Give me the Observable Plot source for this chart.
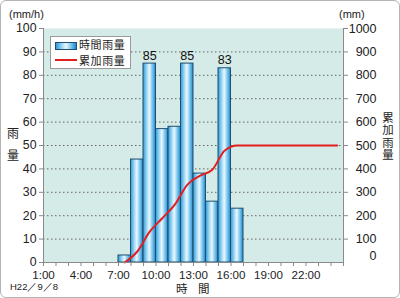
<!DOCTYPE html>
<html><head><meta charset="utf-8">
<script src="https://cdn.jsdelivr.net/npm/d3@7"></script>
<script src="https://cdn.jsdelivr.net/npm/@observablehq/plot@0.6"></script>
<style>
body{margin:0;width:400px;height:298px;overflow:hidden;background:#fff;font-family:"Liberation Sans",Arial,sans-serif;}
#wrap{position:relative;width:400px;height:298px;}
#frame{position:absolute;left:0;top:0;width:398px;height:296px;border:1px solid #b4b4b4;border-radius:6px;pointer-events:none;}
#chart{position:absolute;left:0;top:0;}
.t{position:absolute;color:#222;white-space:nowrap;line-height:1;}
.jp{font-family:"Noto Sans CJK JP",sans-serif;}
.vert{writing-mode:vertical-rl;text-orientation:upright;letter-spacing:1px;}
#legend{position:absolute;left:50px;top:36px;width:79px;height:31px;background:#fff;border:1px solid #9a9a9a;}
.sw{position:absolute;left:4px;top:5px;width:20px;height:6px;border:1px solid #1f4e6e;background:linear-gradient(90deg,#2b9ad8,#9fd8f5 30%,#eaf8ff 50%,#7cc6ee 75%,#1c88cc);}
.ln{position:absolute;left:4px;top:22px;width:22px;height:2px;background:#e41f1f;}
.lt{position:absolute;left:28px;font-size:11px;line-height:11px;color:#222;font-family:"Noto Sans CJK JP",sans-serif;white-space:nowrap;letter-spacing:0.6px;}
</style></head><body>
<div id="wrap">
<div id="chart"></div>
<div id="frame"></div>
</div>
<script>
// ---- data ----
const hours = [7, 8, 9, 10, 11, 12, 13, 14, 15, 16];          // start hour of each bar
const hourlyRain = [3, 44, 85, 57, 58, 85, 38, 26, 83, 23];     // mm/h
const cumTimes = [7.5, 8.5, 9.5, 10.5, 11.5, 12.5, 13.5, 14.5, 15.5, 16.5, 24.5];
const cumRain = [0, 47, 132, 189, 247, 332, 370, 396, 479, 500, 500]; // mm
const xTickHours = d3.range(1, 26);
const xLabelHours = [1, 4, 7, 10, 13, 16, 19, 22];
const leftTicks = [0, 10, 20, 30, 40, 50, 60, 70, 80, 90, 100];
const rightTicks = [100, 200, 300, 400, 500, 600, 700, 800, 900, 1000];
const gridTicks = [10, 20, 30, 40, 50, 60, 70, 80, 90];
const labelledBars = [85, 85, 83];
const legendLabels = ["時間雨量", "累加雨量"];

const bars = hours.map((h, i) => ({h, v: hourlyRain[i]}));
const cum = cumTimes.map((t, i) => ({t, c: cumRain[i]}));
const RIGHT_FACTOR = 10;

const svg = Plot.plot({
  width: 400, height: 298,
  marginLeft: 43, marginRight: 57, marginTop: 28, marginBottom: 36,
  x: {domain: [1, 25]},
  y: {domain: [0, 100]},
  style: {fontFamily: "'Liberation Sans', Arial, sans-serif", fontSize: "12px", color: "#222", background: "transparent"},
  marks: [
    Plot.frame({fill: "#d5ebe7", stroke: null}),
    Plot.gridY(gridTicks, {stroke: "#666", strokeOpacity: 1, strokeDasharray: "1.5,2.5"}),
    Plot.rect(bars, {x1: "h", x2: d => d.h + 1, y1: 0, y2: "v", fill: "url(#barGrad)", stroke: "#1f4e6e", strokeWidth: 1, inset: 0}),
    Plot.line(cum, {x: "t", y: d => d.c / RIGHT_FACTOR, curve: "monotone-x", stroke: "#e41f1f", strokeWidth: 2}),
    Plot.text(bars.filter(d => labelledBars.includes(d.v)), {x: d => d.h + 0.5, y: "v", text: d => String(d.v), dy: -8, fontSize: 12.5, fill: "#111"}),
    Plot.ruleX([1, 25], {stroke: "#8a8a8a"}),
    Plot.ruleY([0], {stroke: "#8a8a8a"}),
    Plot.axisY(leftTicks, {anchor: "left", tickSize: 4, tickPadding: 3, stroke: "#8a8a8a", fill: "#222", fontSize: 12.3, label: null}),
    Plot.axisY(rightTicks.map(d => d / RIGHT_FACTOR), {anchor: "right", tickSize: 4, tickPadding: 29, textAnchor: "end", stroke: "#8a8a8a", fill: "#222", fontSize: 12.5, tickFormat: d => String(d * RIGHT_FACTOR), label: null}),
    Plot.axisY([0], {anchor: "right", tickSize: 0, tickPadding: 33, textAnchor: "end", dy: -7, fill: "#222", fontSize: 12.5, tickFormat: d => String(d), label: null}),
    Plot.axisX(xTickHours, {tickSize: 4, tickPadding: 4.5, stroke: "#8a8a8a", fill: "#222", fontSize: 11.6, tickFormat: d => xLabelHours.includes(d) ? d + ":00" : "", label: null})
  ]
});
svg.insertAdjacentHTML("afterbegin",
  '<defs><linearGradient id="barGrad" x1="0" x2="1" y1="0" y2="0">' +
  '<stop offset="0" stop-color="#2b9ad8"/><stop offset="0.3" stop-color="#9fd8f5"/>' +
  '<stop offset="0.5" stop-color="#eaf8ff"/><stop offset="0.75" stop-color="#7cc6ee"/>' +
  '<stop offset="1" stop-color="#1c88cc"/></linearGradient></defs>');
document.getElementById("chart").appendChild(svg);

const wrap = document.getElementById("wrap");
function addText(html, left, top, size, cls) {
  const d = document.createElement("div");
  d.className = "t " + (cls || "");
  d.style.left = left + "px"; d.style.top = top + "px"; d.style.fontSize = size + "px";
  d.innerHTML = html;
  wrap.appendChild(d);
  return d;
}
addText("(mm/h)", 9, 9, 11);
addText("(mm)", 339, 9, 11);
addText("雨", 7, 127, 12, "jp");
addText("量", 7, 149, 12, "jp");
addText("累加雨量", 381.5, 112, 11.4, "jp vert");
addText("H22／9／8", 10, 282, 9.5);
addText("時", 176, 283, 11.5, "jp");
addText("間", 198, 283, 11.5, "jp");

const lg = document.createElement("div");
lg.id = "legend";
lg.innerHTML = '<div class="sw"></div><div class="ln"></div>' +
  legendLabels.map((s, i) => '<div class="lt" style="top:' + (2 + i * 16) + 'px">' + s + '</div>').join("");
wrap.appendChild(lg);
</script>
</body></html>
